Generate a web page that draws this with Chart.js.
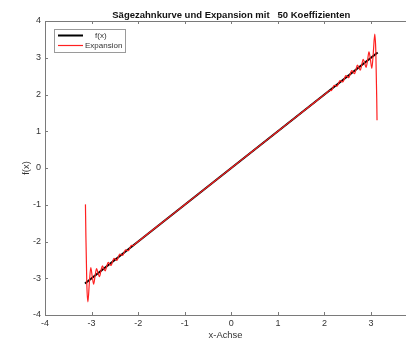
<!doctype html>
<html lang="de">
<head>
	<meta charset="utf-8">
	<title>Sägezahnkurve</title>
	<style>
		html, body { margin: 0; padding: 0; background: #fff; overflow: hidden; }
	</style>
</head>
<body>
	<canvas id="saegezahnChart" width="406" height="341" style="width:406px;height:341px;display:block"></canvas>
	<script src="https://cdn.jsdelivr.net/npm/chart.js@4/dist/chart.umd.min.js"></script>
	<script>
		// f(x) = x on [-pi, pi]
		var fX = [-3.1416, 3.1416];
		var fY = [-3.1416, 3.1416];

		// Fourier expansion, 50 terms (dense at the ends)
		var expX = [
			-3.1316, -3.1218, -3.1020, -3.0794, -3.0483, -3.0172, -2.9861, -2.9550, -2.9239, -2.8927,
			-2.8616, -2.8305, -2.7994, -2.7683, -2.7372, -2.7061, -2.6750, -2.6439, -2.6128, -2.5817,
			-2.5506, -2.5195, -2.4884, -2.4573, -2.4262, -2.3950, -2.3639, -2.3328, -2.3017, -2.2706,
			-2.2395, -2.2084, -2.1773, -2.1462, -2.1151,
			-2.05, -1.9, -1.6, -1.2, -0.8, -0.4, 0, 0.4, 0.8, 1.2, 1.6, 1.9, 2.05,
			2.1151, 2.1462, 2.1773, 2.2084, 2.2395, 2.2706, 2.3017, 2.3328, 2.3639, 2.3950,
			2.4262, 2.4573, 2.4884, 2.5195, 2.5506, 2.5817, 2.6128, 2.6439, 2.6750, 2.7061,
			2.7372, 2.7683, 2.7994, 2.8305, 2.8616, 2.8927, 2.9239, 2.9550, 2.9861, 3.0172,
			3.0483, 3.0794, 3.1020, 3.1218, 3.1280
		];
		var expY = [
			-0.990, -1.872, -3.171, -3.642, -3.138, -2.712, -2.954, -3.163, -2.924, -2.736,
			-2.862, -2.957, -2.799, -2.663, -2.737, -2.797, -2.675, -2.565, -2.613, -2.652,
			-2.551, -2.456, -2.488, -2.514, -2.426, -2.342, -2.364, -2.380, -2.302, -2.225,
			-2.240, -2.251, -2.177, -2.106, -2.115,
			-2.05, -1.9, -1.6, -1.2, -0.8, -0.4, 0, 0.4, 0.8, 1.2, 1.6, 1.9, 2.05,
			2.115, 2.106, 2.177, 2.251, 2.240, 2.225, 2.302, 2.380, 2.364, 2.342,
			2.426, 2.514, 2.488, 2.456, 2.551, 2.652, 2.613, 2.565, 2.675, 2.797,
			2.737, 2.663, 2.799, 2.957, 2.862, 2.736, 2.924, 3.163, 2.954, 2.712,
			3.138, 3.642, 3.171, 1.872, 1.300
		];

		var tickValues = [-4, -3, -2, -1, 0, 1, 2, 3, 4];
		var chartTitle = "Sägezahnkurve und Expansion mit   50 Koeffizienten";
		var legendLabels = ["f(x)", "Expansion"];

		var axisGrey = "#7a7a7a";
		var textGrey = "#333333";

		function toPoints(xs, ys) {
			return xs.map(function(x, i) { return { x: x, y: ys[i] }; });
		}

		// title, top box line, inward tick marks and legend (MATLAB look)
		var matlabDecor = {
			id: "matlabDecor",
			afterDraw: function(chart) {
				var ctx = chart.ctx;
				var a = chart.chartArea;
				var xs = chart.scales.x;
				var ys = chart.scales.y;
				ctx.save();

				ctx.strokeStyle = axisGrey;
				ctx.lineWidth = 1;
				ctx.beginPath();
				ctx.moveTo(a.left, a.top + 0.5);
				ctx.lineTo(a.right, a.top + 0.5);
				xs.ticks.forEach(function(t) {
					var px = Math.round(xs.getPixelForValue(t.value)) + 0.5;
					ctx.moveTo(px, a.bottom);
					ctx.lineTo(px, a.bottom - 3);
					ctx.moveTo(px, a.top);
					ctx.lineTo(px, a.top + 3);
				});
				ys.ticks.forEach(function(t) {
					var py = Math.round(ys.getPixelForValue(t.value)) + 0.5;
					ctx.moveTo(a.left, py);
					ctx.lineTo(a.left + 3, py);
				});
				ctx.stroke();

				ctx.fillStyle = "#111";
				ctx.font = "bold 9.5px 'Liberation Sans', Arial, sans-serif";
				ctx.textAlign = "center";
				ctx.textBaseline = "middle";
				ctx.fillText(chartTitle, xs.getPixelForValue(0), 15);

				// legend box
				ctx.fillStyle = "#fff";
				ctx.fillRect(54.5, 29.5, 71, 23);
				ctx.strokeStyle = "#9a9a9a";
				ctx.strokeRect(54.5, 29.5, 71, 23);
				ctx.lineWidth = 2;
				ctx.strokeStyle = "#000";
				ctx.beginPath();
				ctx.moveTo(58, 35.5);
				ctx.lineTo(83, 35.5);
				ctx.stroke();
				ctx.lineWidth = 1.2;
				ctx.strokeStyle = "#ff2020";
				ctx.beginPath();
				ctx.moveTo(58, 45.5);
				ctx.lineTo(83, 45.5);
				ctx.stroke();
				ctx.fillStyle = textGrey;
				ctx.font = "8px 'Liberation Sans', Arial, sans-serif";
				ctx.textAlign = "left";
				ctx.fillText(legendLabels[0], 95, 36);
				ctx.fillText(legendLabels[1], 85, 46);

				ctx.restore();
			}
		};

		new Chart("saegezahnChart", {
			type: "line",
			data: {
				datasets: [
					{
						label: legendLabels[0],
						data: toPoints(fX, fY),
						borderColor: "#000",
						borderWidth: 2,
						pointRadius: 0,
						order: 2
					},
					{
						label: legendLabels[1],
						data: toPoints(expX, expY),
						borderColor: "#ff2020",
						borderWidth: 1.2,
						pointRadius: 0,
						cubicInterpolationMode: "monotone",
						order: 1
					}
				]
			},
			options: {
				responsive: false,
				animation: false,
				layout: { padding: { top: 21, left: 0, right: 0, bottom: 0 } },
				plugins: {
					legend: { display: false },
					tooltip: { enabled: false }
				},
				scales: {
					x: {
						type: "linear",
						min: -4,
						max: 3.75,
						afterBuildTicks: function(scale) {
							scale.ticks = tickValues.filter(function(v) { return v <= 3; }).map(function(v) { return { value: v }; });
						},
						afterFit: function(scale) { scale.height = 26; },
						grid: { display: false, drawTicks: false },
						border: { display: true, color: axisGrey, width: 1 },
						ticks: {
							padding: 3,
							color: textGrey,
							maxRotation: 0,
							font: { family: "'Liberation Sans', Arial, sans-serif", size: 9 }
						},
						title: {
							display: true,
							text: "x-Achse",
							color: textGrey,
							padding: { top: 0, bottom: 0 },
							font: { family: "'Liberation Sans', Arial, sans-serif", size: 9.4 }
						}
					},
					y: {
						min: -4,
						max: 4,
						afterBuildTicks: function(scale) {
							scale.ticks = tickValues.map(function(v) { return { value: v }; });
						},
						afterFit: function(scale) { scale.width = 45; },
						grid: { display: false, drawTicks: false },
						border: { display: true, color: axisGrey, width: 1 },
						ticks: {
							padding: 4,
							color: textGrey,
							font: { family: "'Liberation Sans', Arial, sans-serif", size: 9 }
						},
						title: {
							display: true,
							text: "f(x)",
							color: textGrey,
							padding: { top: 21, bottom: 0 },
							font: { family: "'Liberation Sans', Arial, sans-serif", size: 9.4 }
						}
					}
				}
			},
			plugins: [matlabDecor]
		});
	</script>
</body>
</html>
